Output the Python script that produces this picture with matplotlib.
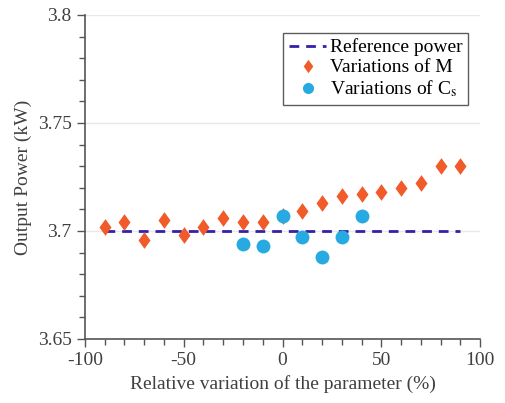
import matplotlib
matplotlib.use("Agg")
import matplotlib.pyplot as plt
import numpy as np
from matplotlib.ticker import MultipleLocator

plt.rcParams["font.family"] = ["Liberation Serif", "DejaVu Serif"]
plt.rcParams["mathtext.fontset"] = "stix"
plt.rcParams["axes.unicode_minus"] = False

# data
m_var = [-90, -80, -70, -60, -50, -40, -30, -20, -10, 0,
         10, 20, 30, 40, 50, 60, 70, 80, 90]
m_power = [3.702, 3.704, 3.696, 3.705, 3.698, 3.702, 3.706, 3.704, 3.704, 3.707,
           3.709, 3.713, 3.716, 3.717, 3.718, 3.720, 3.722, 3.730, 3.730]
cs_var = [-20, -10, 0, 10, 20, 30, 40]
cs_power = [3.694, 3.693, 3.707, 3.697, 3.688, 3.697, 3.707]
ref_var = [-90, 90]
ref_power = [3.7, 3.7]

axis_col = "#555555"
text_col = "#404040"

# a slightly tall diamond, like the MATLAB one
diamond = [(0, 1), (0.72, 0), (0, -1), (-0.72, 0), (0, 1)]

fig = plt.figure(figsize=(5.05, 4.03), dpi=100)
ax = fig.add_axes([0.168, 0.159, 0.783, 0.804])

ax.plot(ref_var, ref_power, color="#3520a8", linestyle=(0, (3.5, 2.5)),
        linewidth=2, label="Reference power", zorder=3)
ax.plot(m_var, m_power, linestyle="none", marker=diamond, markersize=12,
        color="#f15a29", markeredgewidth=0, label="Variations of M", zorder=4)
ax.plot(cs_var, cs_power, linestyle="none", marker="o", markersize=10,
        color="#27aae1", markeredgewidth=0, label="Variations of C$_\\mathrm{s}$", zorder=5)

ax.set_xlim(-100, 100)
ax.set_ylim(3.65, 3.8)
ax.xaxis.set_major_locator(MultipleLocator(50))
ax.xaxis.set_minor_locator(MultipleLocator(10))
ax.yaxis.set_major_locator(MultipleLocator(0.05))
ax.yaxis.set_minor_locator(MultipleLocator(0.01))
ax.set_yticks([3.65, 3.7, 3.75, 3.8])
ax.set_yticklabels(["3.65", "3.7", "3.75", "3.8"])
ax.set_xticks([-100, -50, 0, 50, 100])
ax.set_xticklabels(["-100", "-50", "0", "50", "100"])

ax.grid(True, axis="y", which="major", color="#e8e8e8", linewidth=1, zorder=0)
ax.set_axisbelow(True)
for s in ["top", "right"]:
    ax.spines[s].set_visible(False)
for s in ["left", "bottom"]:
    ax.spines[s].set_color(axis_col)
    ax.spines[s].set_linewidth(1.2)
ax.tick_params(which="major", direction="out", length=6, width=1, color=axis_col,
               labelcolor=text_col, labelsize=14)
ax.tick_params(which="minor", direction="out", length=4, width=1, color=axis_col)

ax.set_xlabel("Relative variation of the parameter (%)", fontsize=14, color=text_col)
ax.set_ylabel("Output Power (kW)", fontsize=14, color=text_col)

leg = ax.legend(loc="upper right", bbox_to_anchor=(0.97, 0.945), fontsize=14,
                frameon=True, fancybox=False, edgecolor="#333333",
                handlelength=1.9, handletextpad=0.2, borderpad=0.3,
                labelspacing=0.12, borderaxespad=0, markerscale=0.8)
leg.get_frame().set_linewidth(1)

fig.savefig("out.png", dpi=100)
